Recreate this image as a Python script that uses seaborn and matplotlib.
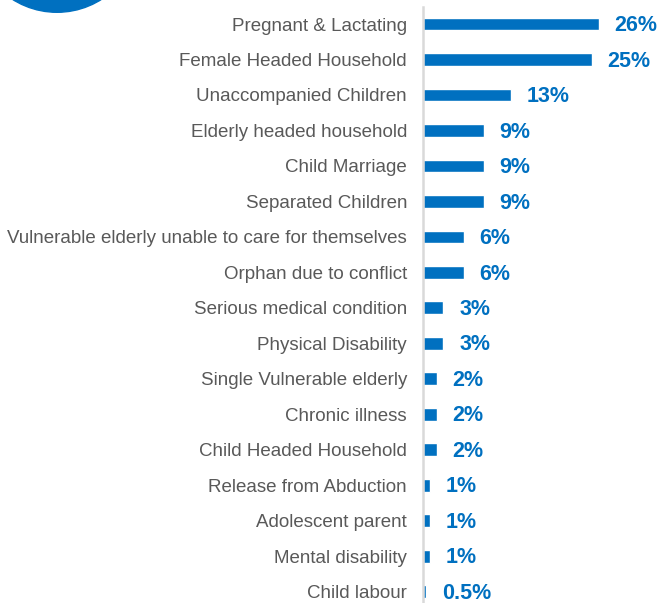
import matplotlib
matplotlib.use("Agg")
import matplotlib.pyplot as plt
from matplotlib.patches import Ellipse
import seaborn as sns
import pandas as pd

categories = [
    "Pregnant & Lactating",
    "Female Headed Household",
    "Unaccompanied Children",
    "Elderly headed household",
    "Child Marriage",
    "Separated Children",
    "Vulnerable elderly unable to care for themselves",
    "Orphan due to conflict",
    "Serious medical condition",
    "Physical Disability",
    "Single Vulnerable elderly",
    "Chronic illness",
    "Child Headed Household",
    "Release from Abduction",
    "Adolescent parent",
    "Mental disability",
    "Child labour",
]
percentages = [26, 25, 13, 9, 9, 9, 6, 6, 3, 3, 2, 2, 2, 1, 1, 1, 0.5]
value_labels = ["26%", "25%", "13%", "9%", "9%", "9%", "6%", "6%", "3%", "3%",
                "2%", "2%", "2%", "1%", "1%", "1%", "0.5%"]

BLUE = "#0070C0"
GREY_TEXT = "#595959"
AXIS_GREY = "#D9D9D9"

df = pd.DataFrame({"category": categories, "pct": percentages})

sns.set_theme(style="white")
plt.rcParams["font.family"] = ["Liberation Sans", "DejaVu Sans"]

W, H = 657, 603
fig = plt.figure(figsize=(W / 100, H / 100), dpi=100)
ax = fig.add_axes([423 / W, 0, 1 - 423 / W, 1 - 7 / H])

sns.barplot(data=df, x="pct", y="category", orient="h", color=BLUE,
            width=0.36, saturation=1, ax=ax)

ax.set_xlim(0, (W - 423) / 6.75)
ax.set_ylim(16.32, -0.48)
ax.set_xlabel("")
ax.set_ylabel("")
ax.set_xticks([])
for side in ("top", "right", "bottom"):
    ax.spines[side].set_visible(False)
ax.spines["left"].set_color(AXIS_GREY)
ax.spines["left"].set_linewidth(1.8)
ax.tick_params(axis="y", length=0, pad=11.5, labelsize=13.5, labelcolor=GREY_TEXT)

for bar, txt in zip(ax.patches, value_labels):
    y = bar.get_y() + bar.get_height() / 2
    ax.annotate(txt, xy=(bar.get_width(), y), xytext=(11.5, -1.2),
                textcoords="offset points", ha="left", va="center",
                fontsize=15.5, fontweight="bold", color=BLUE)

# decorative disc in the upper-left corner
r = 83
fig.add_artist(Ellipse((57 / W, 1 + 70.7 / H), 2 * r / W, 2 * r / H,
                       transform=fig.transFigure, color=BLUE, clip_on=False))

fig.savefig("out.png", dpi=100)
